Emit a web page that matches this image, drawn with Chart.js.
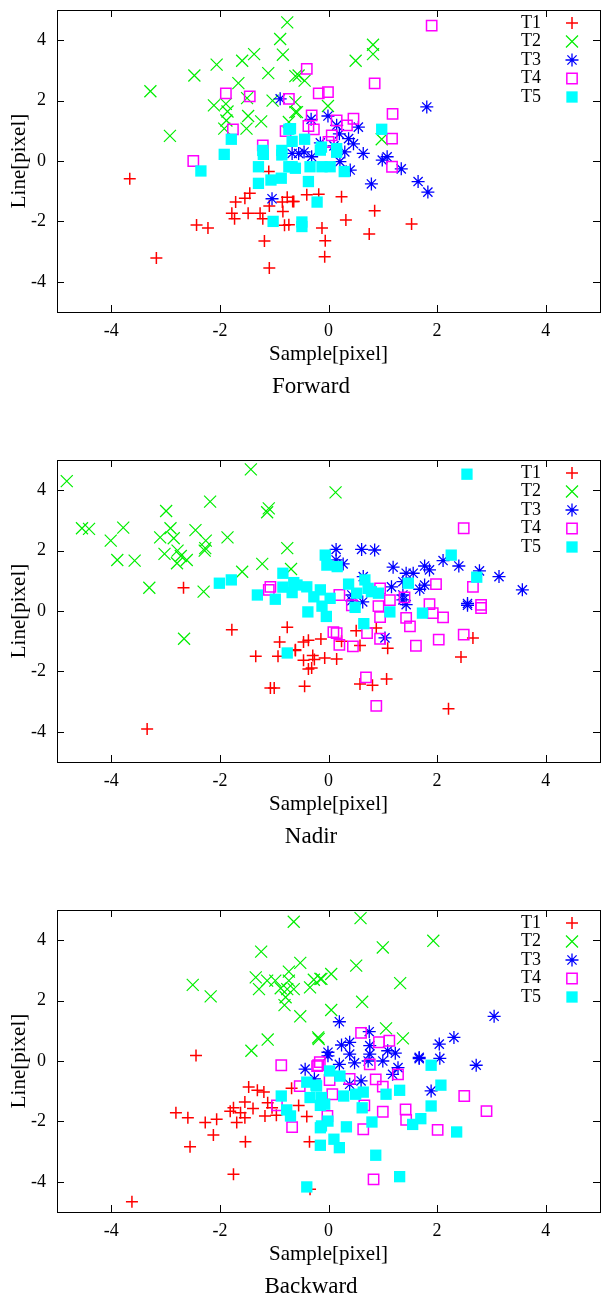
<!DOCTYPE html>
<html>
<head>
<meta charset="utf-8">
<script src="https://cdn.jsdelivr.net/npm/chart.js@4.4.0/dist/chart.umd.min.js"></script>
<style>
  body { margin: 0; background: #fff; width: 601px; height: 1295px; overflow: hidden; position: relative; }
  canvas { position: absolute; left: 0; }
</style>
</head>
<body>
<canvas id="c0" width="601" height="450" style="top:0px"></canvas>
<canvas id="c1" width="601" height="450" style="top:450px"></canvas>
<canvas id="c2" width="601" height="450" style="top:900px"></canvas>
<script>
const seriesNames = ["T1", "T2", "T3", "T4", "T5"];
const panelTitles = ["Forward", "Nadir", "Backward"];
const xTicks = [-4, -2, 0, 2, 4];
const yTicks = [-4, -2, 0, 2, 4];

// Forward
const fwdT1 = [[-3.66,-0.59],[-3.17,-3.21],[-2.43,-2.12],[-2.22,-2.22],[-1.71,-1.36],[-1.54,-1.23],[-1.45,-1.07],[-1.78,-1.73],[-1.73,-1.91],[-1.48,-1.73],[-1.26,-1.73],[-1.21,-1.91],[-1.18,-2.65],[-1.09,-3.54],[-1.09,-1.49],[-1.10,-0.35],[-0.85,-1.36],[-0.76,-1.20],[-0.66,-1.34],[-0.84,-1.67],[-0.81,-2.13],[-0.73,-2.11],[-0.64,-1.34],[-0.40,-1.12],[-0.18,-1.10],[0.24,-1.18],[0.85,-1.65],[0.32,-1.95],[-0.12,-2.22],[-0.06,-2.64],[-0.07,-3.17],[0.75,-2.42],[1.53,-2.09]];
const fwdT2 = [[-0.76,4.59],[-0.89,4.04],[-1.37,3.54],[-0.84,3.52],[-1.59,3.32],[-2.06,3.19],[-2.47,2.83],[-1.11,2.91],[-0.61,2.81],[-3.28,2.31],[-1.66,2.58],[-2.11,1.84],[-1.89,1.89],[-1.86,1.64],[-1.50,2.08],[-1.48,1.49],[-1.24,1.31],[-1.88,1.34],[-1.92,1.07],[-1.51,1.07],[-1.03,2.00],[-2.92,0.83],[-0.61,1.62],[-0.73,1.29],[0.82,3.85],[0.82,3.54],[0.50,3.32],[-0.55,2.83],[-0.44,2.66],[-0.61,1.95],[-0.58,1.62],[-0.01,1.82],[0.98,0.72]];
const fwdT3 = [[-0.32,1.38],[-0.01,1.49],[0.15,1.18],[0.55,1.12],[0.37,0.74],[0.46,0.57],[1.81,1.79],[-0.89,2.06],[-0.55,0.25],[-0.31,0.14],[0.21,-0.02],[0.40,-0.30],[0.64,0.25],[0.99,0.03],[1.08,0.14],[1.34,-0.26],[0.79,-0.76],[1.65,-0.68],[1.83,-1.03],[-1.04,-1.25],[-0.67,0.25],[0.10,0.50],[-0.15,0.60],[0.30,0.30],[-0.45,0.30],[0.20,0.90]];
const fwdT4 = [[1.90,4.48],[-0.40,3.05],[0.85,2.57],[-0.18,2.24],[-0.01,2.28],[1.18,1.56],[-0.31,1.51],[-0.37,1.16],[-0.27,1.05],[0.15,1.34],[0.46,1.40],[0.34,1.18],[0.06,0.85],[0.00,0.63],[1.17,0.74],[-0.73,2.06],[-1.89,2.24],[-1.45,2.14],[-0.79,0.99],[-1.76,1.05],[-1.21,0.52],[-2.49,0.00],[1.17,-0.19]];
const fwdT5 = [[-0.73,1.05],[-0.67,0.65],[-1.79,0.72],[-1.92,0.22],[-1.21,0.35],[-0.86,0.35],[-2.35,-0.33],[-1.20,0.22],[-0.86,0.20],[-1.29,-0.19],[-1.29,-0.74],[-1.06,-0.63],[-0.87,-0.57],[-0.67,-0.19],[-1.02,-2.00],[-0.73,-0.19],[-0.61,-0.24],[-0.34,-0.19],[-0.12,-0.19],[0.03,-0.19],[-0.37,-0.68],[-0.21,-1.36],[-0.49,-2.17],[-0.15,0.36],[0.15,0.29],[0.29,-0.35],[0.98,1.05],[-0.70,1.07],[-0.44,0.72],[-0.13,0.46],[0.15,0.41],[-0.49,-2.02]];

// Nadir
const nadT1 = [[-2.67,0.77],[-1.78,-0.62],[-0.76,-0.54],[-0.90,-1.03],[-1.34,-1.50],[-0.93,-1.50],[-0.61,-1.31],[-1.07,-2.55],[-1.00,-2.55],[-3.34,-3.91],[-0.37,-0.97],[-0.14,-0.93],[-0.46,-1.03],[-0.61,-1.28],[-0.29,-1.47],[-0.46,-1.63],[-0.26,-1.61],[-0.07,-1.56],[0.15,-1.59],[-0.37,-1.92],[-0.31,-1.89],[-0.44,-2.49],[0.24,-1.00],[0.51,-0.65],[0.58,-1.14],[0.88,-0.56],[1.09,-1.23],[0.58,-2.42],[0.81,-2.46],[1.07,-2.25],[2.44,-1.52],[2.66,-0.89],[2.21,-3.24]];
const nadT2 = [[-4.82,4.30],[-1.43,4.69],[-2.18,3.62],[-2.99,3.31],[-1.10,3.40],[-1.13,3.27],[-4.54,2.74],[-4.41,2.72],[-3.78,2.76],[-4.01,2.33],[-2.91,2.74],[-3.10,2.44],[-2.85,2.41],[-2.45,2.68],[-2.26,2.33],[-2.27,2.08],[-1.86,2.44],[-3.89,1.69],[-3.57,1.67],[-3.02,1.89],[-2.78,2.00],[-2.72,1.82],[-2.61,1.69],[-2.79,1.58],[-2.28,2.00],[-1.59,1.30],[-1.22,1.56],[-0.76,2.08],[-0.69,1.39],[-3.30,0.77],[-2.30,0.64],[0.13,3.93],[-2.66,-0.92]];
const nadT3 = [[0.14,2.04],[0.61,2.04],[0.85,2.02],[0.14,1.69],[0.27,1.56],[1.19,1.45],[1.77,1.49],[1.86,1.36],[2.11,1.67],[2.40,1.49],[2.78,1.33],[3.14,1.14],[3.57,0.70],[1.43,1.25],[1.56,1.25],[1.37,0.97],[1.77,0.86],[1.68,0.72],[1.16,0.80],[1.37,0.53],[0.43,0.53],[0.64,1.14],[2.56,0.25],[0.43,0.34],[0.63,0.30],[1.43,0.21],[2.56,0.19],[1.04,-0.89],[1.37,0.37]];
const nadT4 = [[2.49,2.74],[1.98,0.89],[2.66,0.80],[0.95,0.75],[2.81,0.20],[0.20,0.53],[1.13,0.36],[1.40,0.45],[1.86,0.23],[0.92,0.16],[0.95,-0.20],[1.43,-0.23],[1.92,-0.07],[2.11,-0.21],[2.81,0.10],[0.43,0.19],[1.50,-0.51],[0.71,-0.73],[0.09,-0.70],[0.15,-0.73],[0.20,-1.12],[0.45,-1.17],[0.95,-0.92],[1.61,-1.15],[2.03,-0.95],[2.49,-0.78],[0.69,-2.20],[0.88,-3.14],[-1.07,0.80],[-1.10,0.70]];
const nadT5 = [[2.55,4.53],[2.26,1.85],[2.73,1.12],[-0.06,1.85],[-0.03,1.52],[0.16,1.47],[0.37,0.89],[0.67,1.03],[0.73,0.75],[1.47,0.92],[-0.58,0.86],[-0.40,0.80],[-0.15,0.70],[-0.27,0.47],[0.03,0.42],[0.52,0.59],[0.92,0.59],[0.79,0.64],[-2.01,0.92],[-1.79,1.03],[-1.31,0.53],[-0.98,0.39],[-0.84,1.25],[-0.84,0.79],[-0.64,0.94],[-0.67,0.61],[-0.38,-0.03],[-0.04,-0.18],[-0.12,0.16],[0.49,0.12],[1.13,-0.03],[1.73,-0.07],[0.65,-0.42],[-0.76,-1.39]];

// Backward
const bwdT1 = [[-2.44,0.18],[-1.47,-0.86],[-1.31,-0.97],[-1.19,-1.03],[-1.54,-1.36],[-1.39,-1.57],[-1.75,-1.55],[-1.81,-1.66],[-1.62,-1.71],[-1.54,-1.88],[-1.69,-2.04],[-2.81,-1.71],[-2.59,-1.88],[-2.27,-2.04],[-2.06,-1.93],[-2.12,-2.45],[-2.55,-2.84],[-1.53,-2.67],[-1.75,-3.75],[-3.62,-4.66],[-1.12,-1.38],[-1.04,-1.55],[-1.17,-1.82],[-0.96,-1.80],[-0.68,-0.90],[-0.55,-1.47],[-0.40,-1.84],[-0.35,-2.67],[-0.34,-4.25]];
const bwdT2 = [[-0.64,4.61],[-1.24,3.62],[-0.52,3.25],[-2.50,2.52],[-2.17,2.14],[-1.34,2.77],[-1.28,2.38],[-1.13,2.66],[-0.98,2.66],[-0.88,2.41],[-0.73,2.96],[-0.73,2.66],[-0.64,2.38],[-0.76,2.38],[-0.79,2.11],[-0.81,1.85],[-0.52,1.48],[-0.34,2.44],[-0.27,2.69],[-0.15,2.72],[-1.12,0.71],[-1.42,0.34],[-0.18,0.73],[0.59,4.73],[1.93,3.98],[1.00,3.76],[0.51,3.16],[0.05,2.88],[-0.13,2.72],[1.32,2.58],[0.62,1.96],[0.05,1.69],[1.06,1.08],[1.37,0.75],[-0.19,0.78]];
const bwdT3 = [[0.20,1.30],[3.05,1.48],[2.31,0.78],[2.04,0.56],[0.75,0.97],[0.24,0.53],[0.39,0.62],[0.76,0.51],[-0.01,0.29],[1.09,0.34],[1.23,0.26],[0.76,0.23],[1.67,0.12],[2.05,0.09],[0.39,0.23],[2.72,-0.14],[1.67,0.08],[1.00,0.00],[0.73,0.00],[0.48,-0.06],[0.20,-0.11],[0.39,-0.77],[0.60,-0.66],[-0.01,0.17],[-0.43,-0.27],[-0.26,-0.59],[1.89,-0.99],[1.28,-0.22],[1.18,-0.44]];
const bwdT4 = [[-0.87,-0.14],[-0.53,-0.83],[-0.67,-2.19],[-0.21,-0.17],[-0.95,-1.47],[0.60,0.93],[0.93,0.62],[1.12,0.67],[-0.16,-0.04],[-0.19,-0.14],[0.02,-0.63],[0.39,-0.59],[0.87,-0.61],[1.00,-0.85],[1.28,-0.44],[0.76,-0.11],[0.07,-1.10],[0.66,-1.47],[1.00,-1.68],[1.42,-1.60],[1.43,-1.95],[-0.02,-1.82],[0.64,-2.26],[2.01,-2.28],[2.50,-1.16],[2.91,-1.66],[0.83,-3.92]];
const bwdT5 = [[-0.40,-0.70],[-0.87,-1.16],[-0.77,-1.62],[-0.70,-1.82],[-0.23,-0.80],[-0.34,-1.21],[-0.15,-1.47],[-0.40,-4.17],[-0.15,-2.79],[-0.15,-2.21],[1.89,-0.14],[2.07,-0.80],[1.31,-0.97],[1.06,-1.10],[0.64,-1.03],[0.50,-1.10],[0.28,-1.16],[0.62,-1.55],[-0.13,-1.21],[-0.07,-1.43],[1.89,-1.49],[1.70,-1.91],[1.55,-2.10],[2.36,-2.35],[0.80,-2.02],[-0.01,-1.99],[-0.13,-2.15],[0.33,-2.18],[0.10,-2.59],[0.20,-2.87],[0.87,-3.12],[1.31,-3.83],[0.02,-0.33],[0.21,-0.50],[-0.22,-0.83]];

const panels = [
  [fwdT1, fwdT2, fwdT3, fwdT4, fwdT5],
  [nadT1, nadT2, nadT3, nadT4, nadT5],
  [bwdT1, bwdT2, bwdT3, bwdT4, bwdT5]
];

const FONT = "'Liberation Serif', 'Times New Roman', serif";

const markers = [
  { pointStyle: "cross",    pointRadius: 6,   pointBorderWidth: 1.5, pointBorderColor: "#ff0000", pointBackgroundColor: "#ff0000" },
  { pointStyle: "crossRot", pointRadius: 8.5, pointBorderWidth: 1.2, pointBorderColor: "#00ee00", pointBackgroundColor: "#00ee00" },
  { pointStyle: "star",     pointRadius: 6.5, pointBorderWidth: 1.3, pointBorderColor: "#0000ff", pointBackgroundColor: "#0000ff" },
  { pointStyle: "rect",     pointRadius: 7.3, pointBorderWidth: 1.5, pointBorderColor: "#ff00ff", pointBackgroundColor: "rgba(0,0,0,0)" },
  { pointStyle: "rect",     pointRadius: 8,   pointBorderWidth: 0,   pointBorderColor: "#00ffff", pointBackgroundColor: "#00ffff" }
];

// box round the plot with inward ticks on all four sides
const framePlugin = {
  id: "frame",
  afterDatasetsDraw(chart) {
    const { ctx, chartArea: a, scales } = chart;
    const len = 7;
    ctx.save();
    ctx.strokeStyle = "#000";
    ctx.lineWidth = 1;
    ctx.beginPath();
    xTicks.forEach((v) => {
      const px = Math.round(scales.x.getPixelForValue(v)) + 0.5;
      ctx.moveTo(px, a.bottom); ctx.lineTo(px, a.bottom - len);
      ctx.moveTo(px, a.top); ctx.lineTo(px, a.top + len);
    });
    yTicks.forEach((v) => {
      const py = Math.round(scales.y.getPixelForValue(v)) + 0.5;
      ctx.moveTo(a.left, py); ctx.lineTo(a.left + len, py);
      ctx.moveTo(a.right, py); ctx.lineTo(a.right - len, py);
    });
    ctx.stroke();
    ctx.strokeRect(Math.round(a.left) + 0.5, Math.round(a.top) + 0.5, Math.round(a.right - a.left), Math.round(a.bottom - a.top));
    ctx.restore();
  }
};

// gnuplot style key (label then marker, top right inside the plot) and the panel caption
const keyPlugin = {
  id: "key",
  afterDraw(chart, args, opts) {
    const { ctx, chartArea: a } = chart;
    ctx.save();
    ctx.font = "18px " + FONT;
    ctx.textAlign = "right";
    ctx.textBaseline = "middle";
    chart.data.datasets.forEach((ds, i) => {
      const y = a.top + 13 + i * 18.5;
      ctx.fillStyle = "#000";
      ctx.fillText(ds.label, a.right - 59, y);
      ctx.strokeStyle = ds.pointBorderColor;
      ctx.fillStyle = ds.pointBackgroundColor;
      ctx.lineWidth = ds.pointBorderWidth;
      Chart.helpers.drawPoint(ctx, {
        pointStyle: ds.pointStyle, radius: ds.pointRadius, rotation: 0, borderWidth: ds.pointBorderWidth
      }, a.right - 28, y);
    });
    ctx.font = "23px " + FONT;
    ctx.textAlign = "center";
    ctx.fillStyle = "#000";
    ctx.fillText(opts.caption, 311, a.bottom + 75);
    ctx.restore();
  }
};

panels.forEach((series, p) => {
  new Chart(document.getElementById("c" + p), {
    type: "scatter",
    data: {
      datasets: series.map((pts, i) => ({
        label: seriesNames[i],
        data: pts.map(([x, y]) => ({ x, y })),
        order: series.length - i,
        ...markers[i]
      }))
    },
    options: {
      responsive: false,
      animation: false,
      events: [],
      layout: { autoPadding: false, padding: { top: 10, right: 1, bottom: 74, left: 0 } },
      plugins: {
        legend: { display: false },
        tooltip: { enabled: false },
        key: { caption: panelTitles[p] }
      },
      scales: {
        x: {
          type: "linear", min: -5, max: 5,
          afterBuildTicks: (s) => { s.ticks = xTicks.map((v) => ({ value: v })); },
          afterFit: (s) => { s.height = 64; s.paddingLeft = 0; s.paddingRight = 0; },
          grid: { display: false, drawTicks: false },
          border: { display: false },
          ticks: { color: "#000", font: { family: FONT, size: 18 }, padding: 8, maxRotation: 0 },
          title: { display: true, text: "Sample[pixel]", color: "#000", font: { family: FONT, size: 21 }, padding: { top: 0, bottom: 9 } }
        },
        y: {
          type: "linear", min: -5, max: 5,
          afterBuildTicks: (s) => { s.ticks = yTicks.map((v) => ({ value: v })); },
          afterFit: (s) => { s.width = 57; s.paddingTop = 0; s.paddingBottom = 0; },
          grid: { display: false, drawTicks: false },
          border: { display: false },
          ticks: { color: "#000", font: { family: FONT, size: 18 }, padding: 11 },
          title: { display: true, text: "Line[pixel]", color: "#000", font: { family: FONT, size: 21 }, padding: { top: 7, bottom: 0 } }
        }
      }
    },
    plugins: [framePlugin, keyPlugin]
  });
});
</script>
</body>
</html>
